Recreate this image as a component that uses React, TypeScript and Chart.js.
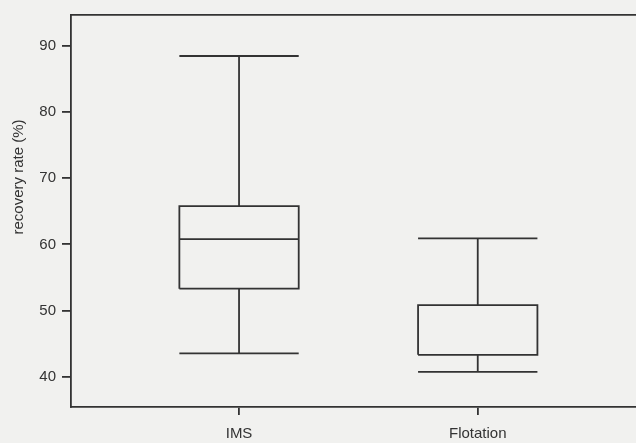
import React, { useEffect, useRef } from "react";
import { Chart, registerables } from "chart.js";

Chart.register(...registerables);

const categories = ["IMS", "Flotation"];
const whiskerLow = [43.5, 40.7];
const q1 = [53.3, 43.3];
const median = [60.8, 43.3];
const q3 = [65.8, 50.8];
const whiskerHigh = [88.5, 60.9];
const yTicks = [40, 50, 60, 70, 80, 90];
const yTitle = "recovery rate (%)";

const INK = "#333333";
const BG = "#f1f1ef";
const FONT = "'Liberation Sans', Arial, sans-serif";

export default function App() {
  const ref = useRef<HTMLCanvasElement | null>(null);

  useEffect(() => {
    document.body.style.margin = "0";
    document.body.style.background = BG;
    const half = 0.25;
    const pts: any[] = [];
    categories.forEach((_, i) => {
      const x = i + 1;
      const gap = { x, y: null };
      pts.push(
        { x: x - half, y: q1[i] }, { x: x + half, y: q1[i] }, { x: x + half, y: q3[i] },
        { x: x - half, y: q3[i] }, { x: x - half, y: q1[i] }, gap,
        { x: x - half, y: median[i] }, { x: x + half, y: median[i] }, gap,
        { x, y: q3[i] }, { x, y: whiskerHigh[i] }, gap,
        { x: x - half, y: whiskerHigh[i] }, { x: x + half, y: whiskerHigh[i] }, gap,
        { x, y: q1[i] }, { x, y: whiskerLow[i] }, gap,
        { x: x - half, y: whiskerLow[i] }, { x: x + half, y: whiskerLow[i] }, gap
      );
    });

    const titlePlugin = {
      id: "ytitle",
      afterDraw(chart: any) {
        const ctx = chart.ctx;
        ctx.save();
        ctx.fillStyle = INK;
        ctx.font = `15px ${FONT}`;
        ctx.textAlign = "center";
        ctx.textBaseline = "middle";
        ctx.translate(19, 177);
        ctx.rotate(-Math.PI / 2);
        ctx.fillText(yTitle, 0, 0);
        ctx.restore();
      },
    };

    const chart = new Chart(ref.current!, {
      type: "scatter",
      data: {
        datasets: [
          {
            data: pts,
            showLine: true,
            spanGaps: false,
            borderColor: INK,
            borderWidth: 1.8,
            pointRadius: 0,
            fill: false,
          } as any,
        ],
      },
      plugins: [titlePlugin],
      options: {
        animation: false,
        responsive: true,
        maintainAspectRatio: false,
        layout: { padding: 0 },
        plugins: { legend: { display: false }, tooltip: { enabled: false } },
        scales: {
          x: {
            type: "linear",
            position: "bottom",
            min: 0.296,
            max: 2.663,
            afterBuildTicks: (s: any) => {
              s.ticks = categories.map((_, i) => ({ value: i + 1 }));
            },
            afterFit: (s: any) => {
              s.height = 36;
            },
            ticks: {
              color: INK,
              font: { family: FONT, size: 15 },
              padding: 10,
              maxRotation: 0,
              autoSkip: false,
              callback: (v: any) => categories[Math.round(Number(v)) - 1] ?? "",
            },
            grid: { drawOnChartArea: false, drawTicks: true, tickLength: 8, color: INK, lineWidth: 1.8 },
            border: { display: true, color: INK, width: 1.8 },
          },
          xTop: {
            type: "linear",
            position: "top",
            min: 0.296,
            max: 2.663,
            afterFit: (s: any) => {
              s.height = 13.5;
            },
            ticks: { display: false },
            grid: { display: false, drawTicks: false },
            border: { display: true, color: INK, width: 1.8 },
          },
          y: {
            type: "linear",
            min: 35.4,
            max: 94.7,
            afterBuildTicks: (s: any) => {
              s.ticks = yTicks.map((v) => ({ value: v }));
            },
            afterFit: (s: any) => {
              s.width = 71;
            },
            ticks: {
              color: INK,
              font: { family: FONT, size: 15 },
              padding: 6,
            },
            grid: { drawOnChartArea: false, drawTicks: true, tickLength: 9, color: INK, lineWidth: 1.8 },
            border: { display: true, color: INK, width: 1.8 },
          },
        },
      },
    });
    return () => chart.destroy();
  }, []);

  return (
    <div style={{ width: 636, height: 443, position: "relative", background: BG }}>
      <canvas ref={ref} />
    </div>
  );
}
